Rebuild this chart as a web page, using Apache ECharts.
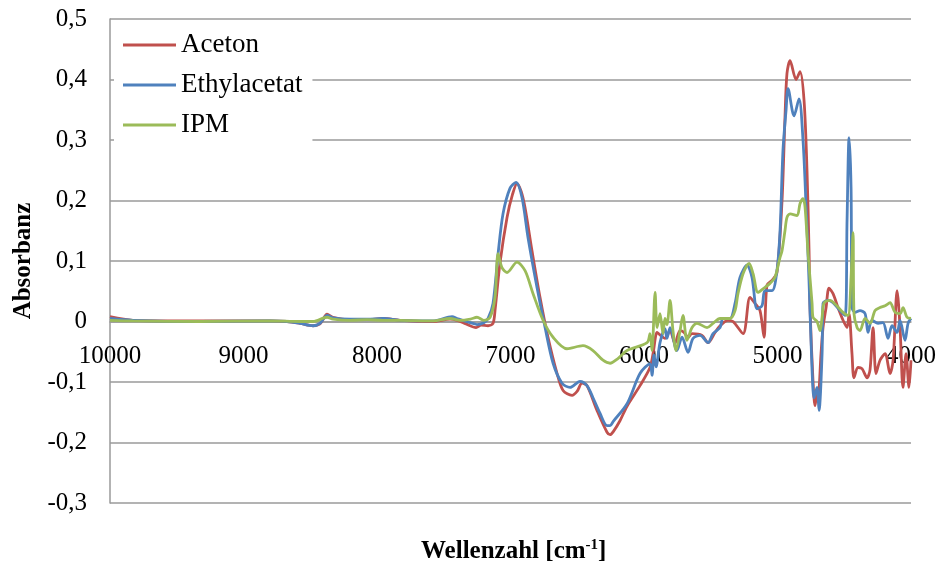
<!DOCTYPE html>
<html>
<head>
<meta charset="utf-8">
<script src="https://cdn.jsdelivr.net/npm/echarts@6/dist/echarts.min.js"></script>
<style>
  html, body { margin: 0; padding: 0; background: #ffffff; }
  #chart { width: 939px; height: 570px; }
</style>
</head>
<body>
<div id="chart"></div>
<script>
// NIR difference spectra: [wavenumber in cm^-1, absorbance]
const seriesNames = ['Aceton', 'Ethylacetat', 'IPM'];
const seriesColors = ['#C0504D', '#4F81BD', '#9BBB59'];

const aceton = [
  [10000, 0.008], [9828, 0.002], [9326, 0.001], [8800, 0.001], [8674, 0.0], [8577, -0.003],
  [8479, -0.007], [8427, -0.004], [8374, 0.012], [8330, 0.007], [8202, 0.003], [8075, 0.003],
  [7955, 0.005], [7828, 0.002], [7580, 0.0], [7453, 0.004], [7400, 0.002], [7333, -0.004],
  [7258, -0.010], [7220, -0.006], [7168, -0.007], [7131, -0.003], [7116, 0.018], [7079, 0.096],
  [7026, 0.172], [6985, 0.210], [6951, 0.228], [6920, 0.215], [6891, 0.188], [6839, 0.117],
  [6779, 0.040], [6719, -0.026], [6651, -0.086], [6606, -0.114], [6539, -0.122], [6500, -0.115],
  [6464, -0.102], [6427, -0.106], [6352, -0.147], [6277, -0.183], [6254, -0.187], [6230, -0.182],
  [6180, -0.164], [6127, -0.140], [6030, -0.106], [5955, -0.076], [5932, -0.053], [5902, -0.018],
  [5880, -0.022], [5843, -0.028], [5805, -0.015], [5768, -0.036], [5730, -0.015], [5700, -0.018],
  [5670, -0.026], [5640, -0.020], [5565, -0.023], [5520, -0.035], [5468, -0.018], [5430, -0.007],
  [5371, 0.002], [5333, 0.0], [5258, -0.020], [5206, 0.040], [5169, 0.030], [5131, 0.018],
  [5101, -0.026], [5079, 0.060], [5041, 0.068], [5004, 0.081], [4966, 0.200], [4944, 0.337],
  [4929, 0.410], [4906, 0.431], [4861, 0.400], [4831, 0.413], [4801, 0.365], [4779, 0.250],
  [4764, 0.120], [4756, 0.020], [4734, -0.098], [4719, -0.139], [4704, -0.119], [4696, -0.126],
  [4674, -0.053], [4659, -0.010], [4636, 0.023], [4614, 0.055], [4584, 0.046], [4547, 0.023],
  [4509, 0.002], [4479, -0.010], [4464, 0.013], [4442, -0.053], [4427, -0.093], [4397, -0.076],
  [4367, -0.078], [4329, -0.093], [4307, -0.080], [4284, -0.010], [4262, -0.086], [4232, -0.064],
  [4194, -0.053], [4157, -0.086], [4134, -0.064], [4104, 0.051], [4082, -0.010], [4060, -0.109],
  [4037, -0.053], [4015, -0.109], [4000, -0.064]
];

const ethylacetat = [
  [10000, 0.005], [9828, 0.002], [9326, 0.0], [8800, 0.001], [8674, 0.0], [8577, -0.003],
  [8479, -0.007], [8427, -0.003], [8374, 0.010], [8330, 0.006], [8202, 0.004], [8075, 0.004],
  [7955, 0.005], [7828, 0.002], [7580, 0.001], [7438, 0.008], [7400, 0.005], [7333, 0.0],
  [7281, -0.003], [7251, -0.005], [7200, -0.002], [7168, 0.005], [7131, 0.030], [7093, 0.112],
  [7056, 0.178], [7004, 0.220], [6959, 0.230], [6914, 0.205], [6869, 0.139], [6801, 0.056],
  [6741, -0.010], [6681, -0.069], [6614, -0.102], [6554, -0.109], [6479, -0.099], [6427, -0.106],
  [6382, -0.126], [6329, -0.152], [6277, -0.172], [6254, -0.172], [6230, -0.165], [6127, -0.136],
  [6030, -0.086], [5955, -0.070], [5940, -0.089], [5925, -0.055], [5910, -0.075], [5880, -0.035],
  [5843, -0.012], [5828, -0.028], [5805, -0.010], [5753, -0.048], [5715, -0.026], [5670, -0.051],
  [5633, -0.028], [5580, -0.023], [5520, -0.035], [5483, -0.020], [5430, -0.010], [5408, 0.005],
  [5356, 0.005], [5318, 0.030], [5281, 0.073], [5228, 0.093], [5191, 0.073], [5153, 0.021],
  [5116, 0.026], [5094, 0.051], [5041, 0.051], [5004, 0.084], [4981, 0.150], [4959, 0.283],
  [4936, 0.349], [4921, 0.385], [4876, 0.340], [4839, 0.368], [4809, 0.300], [4786, 0.190],
  [4764, 0.068], [4741, -0.081], [4726, -0.126], [4704, -0.109], [4689, -0.147], [4666, -0.053],
  [4659, 0.030], [4621, 0.035], [4584, 0.031], [4532, 0.018], [4494, 0.010], [4479, 0.167],
  [4464, 0.304], [4449, 0.221], [4442, 0.023], [4419, 0.015], [4382, 0.018], [4344, 0.013],
  [4322, -0.018], [4292, 0.002], [4247, -0.003], [4210, -0.002], [4172, -0.028], [4142, -0.007],
  [4104, -0.018], [4082, 0.002], [4045, -0.031], [4022, -0.003], [4000, 0.005]
];

const ipm = [
  [10000, 0.002], [9828, 0.001], [9326, 0.0], [8800, 0.001], [8577, 0.0], [8479, 0.0],
  [8374, 0.007], [8330, 0.004], [8202, 0.002], [8075, 0.003], [7955, 0.002], [7828, 0.002],
  [7580, 0.001], [7453, 0.005], [7378, 0.002], [7300, 0.004], [7251, 0.007], [7200, 0.002],
  [7153, 0.007], [7116, 0.040], [7093, 0.112], [7064, 0.089], [7026, 0.081], [6951, 0.098],
  [6891, 0.084], [6831, 0.046], [6756, 0.002], [6681, -0.026], [6577, -0.045], [6457, -0.040],
  [6382, -0.048], [6307, -0.064], [6254, -0.069], [6200, -0.062], [6127, -0.048], [5977, -0.035],
  [5955, -0.020], [5940, -0.048], [5917, 0.048], [5902, -0.010], [5880, 0.013], [5858, -0.020],
  [5843, 0.005], [5828, -0.005], [5805, 0.035], [5783, -0.015], [5760, -0.048], [5730, -0.015],
  [5708, 0.010], [5678, -0.031], [5640, -0.010], [5603, -0.003], [5528, -0.010], [5483, -0.003],
  [5430, 0.005], [5356, 0.005], [5318, 0.018], [5296, 0.046], [5258, 0.079], [5213, 0.096],
  [5183, 0.079], [5146, 0.048], [5109, 0.054], [5056, 0.063], [5019, 0.073], [4981, 0.106],
  [4966, 0.117], [4944, 0.150], [4929, 0.172], [4906, 0.178], [4854, 0.175], [4831, 0.195],
  [4809, 0.203], [4794, 0.190], [4771, 0.112], [4741, 0.030], [4734, 0.007], [4704, 0.0],
  [4681, -0.015], [4666, 0.007], [4651, 0.031], [4607, 0.035], [4556, 0.026], [4509, 0.015],
  [4472, 0.010], [4449, 0.073], [4434, 0.147], [4427, 0.013], [4404, -0.010], [4382, -0.015],
  [4344, 0.005], [4307, -0.003], [4269, 0.018], [4232, 0.023], [4194, 0.026], [4157, 0.031],
  [4119, 0.015], [4082, 0.013], [4060, 0.023], [4030, 0.007], [4000, 0.005]
];

const seriesData = [aceton, ethylacetat, ipm];

// Axis ranges and tick spacing
const xRange = [4000, 10000];
const xStep = 1000;
const yRange = [-0.3, 0.5];
const yStep = 0.1;

const FONT = '"Liberation Serif", "Times New Roman", serif';
const GRID_GRAY = '#9a9a9a';
const GRID = { left: 110, right: 28, top: 19, bottom: 67 };

const chart = echarts.init(document.getElementById('chart'), null, { renderer: 'canvas' });

const commaDecimal = v => {
  if (Math.abs(v) < 1e-9) return '0';
  return v.toFixed(1).replace('.', ',');
};

chart.setOption({
  backgroundColor: '#ffffff',
  animation: false,
  grid: Object.assign({ containLabel: false }, GRID),
  title: {
    text: '{b|Wellenzahl [cm}{s|-1}{b|]}',
    left: 421,
    top: 538,
    padding: 0,
    textStyle: {
      rich: {
        b: { fontFamily: FONT, fontWeight: 'bold', fontSize: 25, color: '#000', lineHeight: 28 },
        s: { fontFamily: FONT, fontWeight: 'bold', fontSize: 15, color: '#000', lineHeight: 15, verticalAlign: 'top' }
      }
    }
  },
  legend: {
    data: seriesNames,
    orient: 'vertical',
    left: 114,
    top: 22,
    padding: [8, 10, 12, 9],
    backgroundColor: '#ffffff',
    icon: 'rect',
    itemWidth: 53,
    itemHeight: 3,
    itemGap: 10,
    textStyle: { fontFamily: FONT, fontSize: 27, color: '#000', lineHeight: 30 }
  },
  xAxis: {
    type: 'value',
    inverse: true,
    min: xRange[0],
    max: xRange[1],
    interval: xStep,
    axisLine: { onZero: false, lineStyle: { color: GRID_GRAY, width: 1.5 } },
    axisTick: { show: false },
    splitLine: { show: false },
    axisLabel: { fontFamily: FONT, fontSize: 25, color: '#000', margin: 22, formatter: v => String(v) }
  },
  yAxis: {
    type: 'value',
    min: yRange[0],
    max: yRange[1],
    interval: yStep,
    name: 'Absorbanz',
    nameLocation: 'middle',
    nameRotate: 90,
    nameGap: 74,
    nameTextStyle: { fontFamily: FONT, fontSize: 25, fontWeight: 'bold', color: '#000' },
    axisLine: { show: true, onZero: false, lineStyle: { color: GRID_GRAY, width: 1.5 } },
    axisTick: { show: false },
    splitLine: { show: true, lineStyle: { color: GRID_GRAY, width: 1.5 } },
    axisLabel: { fontFamily: FONT, fontSize: 25, color: '#000', margin: 23, formatter: commaDecimal }
  },
  series: seriesNames.map((name, i) => ({
    name,
    type: 'line',
    data: seriesData[i],
    symbol: 'none',
    smooth: 0.3,
    z: 2 + i,
    itemStyle: { color: seriesColors[i] },
    lineStyle: { color: seriesColors[i], width: 2.8 }
  }))
});

// The wavenumber axis crosses the absorbance axis at zero: shift it up from the grid bottom.
const zeroY = chart.convertToPixel({ yAxisIndex: 0 }, 0);
const bottomY = chart.getHeight() - GRID.bottom;
chart.setOption({ xAxis: { offset: -(bottomY - zeroY) } });
</script>
</body>
</html>
